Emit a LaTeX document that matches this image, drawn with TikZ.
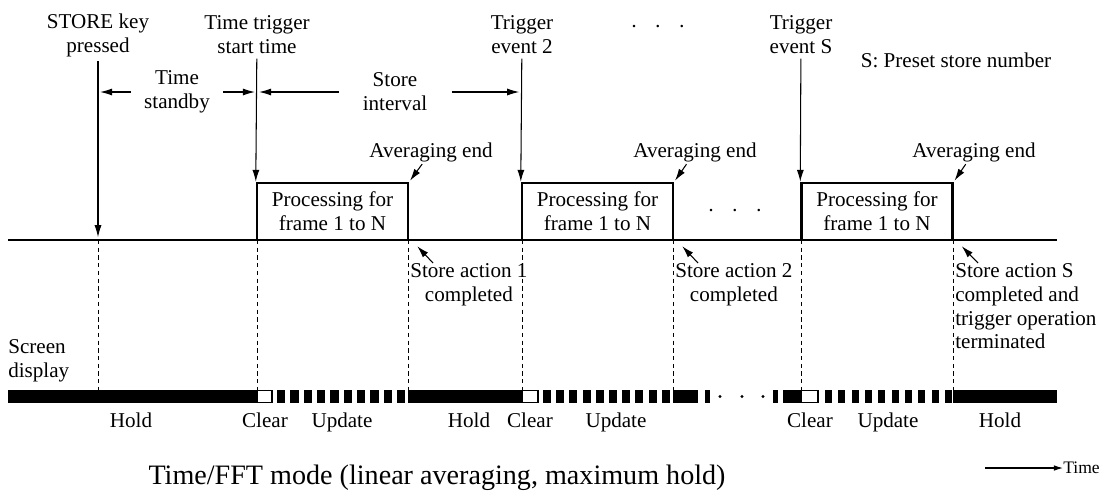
\documentclass[tikz,border=0pt]{standalone}
\usepackage{fontspec}
\setmainfont{Liberation Serif}
\usetikzlibrary{arrows.meta,positioning,calc}

\begin{document}
\begin{tikzpicture}[
  x=0.025cm, y=-0.025cm,
  lbl/.style={font=\fontsize{15}{17}\selectfont, align=center, inner sep=0pt},
  box/.style={draw, line width=1.7pt, minimum width=3.775cm, minimum height=1.425cm, inner sep=0pt, align=center, font=\fontsize{15}{17}\selectfont},
  arr/.style={-{Latex[length=8.5pt,width=5pt]}, line width=0.75pt},
  guide/.style={dash pattern=on 3pt off 2.5pt, line width=0.6pt},
  clr/.style={draw, fill=white, line width=0.8pt}
]
\useasboundingbox (0,0) rectangle (1110,496);

% event positions on the time line and on the screen bar
\foreach \n/\x in {a/98,b/257,c/408,d/522,e/673,f/801,g/953} {
  \coordinate (t\n) at (\x,240);
  \coordinate (s\n) at (\x,390);
}
\coordinate (l0) at (8,240);
\coordinate (l1) at (1057,240);
\draw[line width=1.7pt] (l0) -- (l1);

% processing boxes
\node[box] (p1) at (332.5,211.5) {Processing for\\frame 1 to N};
\node[box] (p2) at (597.5,211.5) {Processing for\\frame 1 to N};
\node[box] (p3) at (877,211.5) {Processing for\\frame 1 to N};
\node[lbl] (dots2) at (735,213) {·\hspace{0.8em}·\hspace{0.8em}·};

% triggers
\node[lbl] (stk) at (98,35) {STORE key\\pressed};
\node[lbl] (tts) at (257,35) {Time trigger\\start time};
\node[lbl] (te2) at (522,35) {Trigger\\event 2};
\node[lbl] (tes) at (801,35) {Trigger\\event S};
\node[lbl] (dots1) at (658,29) {·\hspace{0.8em}·\hspace{0.8em}·};
\node[lbl, anchor=base] (spn) at (956,67) {S: Preset store number};

\draw[arr, shorten <=3pt, shorten >=2pt] (stk) -- (ta);
\draw[arr, shorten <=3pt] (tts) -- (p1.north west);
\draw[arr, shorten <=3pt] (te2) -- (p2.north west);
\draw[arr, shorten <=3pt] (tes) -- (p3.north west);

% intervals
\node[lbl, inner xsep=0.33cm] (tsb) at (177,92) {Time\\standby};
\node[lbl, inner xsep=0.6cm] (sint) at (395,92) {Store\\interval};
\draw[arr, shorten >=1.5pt] (tsb.west) -- (tsb.west -| ta);
\draw[arr, shorten >=1.5pt] (tsb.east) -- (tsb.east -| tb);
\draw[arr, shorten >=1.5pt] (sint.west) -- (sint.west -| tb);
\draw[arr, shorten >=2pt] (sint.east) -- (sint.east -| td);

% averaging end
\node[lbl, anchor=base] (avg1) at (431,157) {Averaging end};
\node[lbl, anchor=base] (avg2) at (695,157) {Averaging end};
\node[lbl, anchor=base] (avg3) at (974,157) {Averaging end};
\draw[arr, shorten <=2pt, shorten >=1pt] (avg1) -- (p1.north east);
\draw[arr, shorten <=2pt, shorten >=1pt] (avg2) -- (p2.north east);
\draw[arr, shorten <=2pt, shorten >=1pt] (avg3) -- (p3.north east);

% store actions
\node[lbl, anchor=north west] (sa1) at (410,263) {Store action 1\\completed};
\node[lbl, anchor=north west] (sa2) at (675,263) {Store action 2\\completed};
\node[lbl, anchor=north west, align=left] (sas) at (955,263) {Store action S\\completed and\\trigger operation\\terminated};
\draw[arr] ($(sa1.north west)+(23,0)$) -- ($(p1.south east)+(8,5)$);
\draw[arr] ($(sa2.north west)+(23,0)$) -- ($(p2.south east)+(8,5)$);
\draw[arr] ($(sas.north west)+(23,0)$) -- ($(p3.south east)+(8,5)$);

\foreach \n in {a,b,c,d,e,f,g}
  \draw[guide] (t\n) -- (s\n);

% screen display bar
\node[lbl, anchor=west, align=left] (scr) at (8,361) {Screen\\display};
\fill (8,390) rectangle (257,403);
\draw[clr] (257.5,390.6) rectangle (272,402.4);
\foreach \x in {277,290.33,...,400} \fill (\x,390) rectangle ++(8.3,13);
\fill (408,390) rectangle (522,403);
\draw[clr] (522.5,390.6) rectangle (538,402.4);
\foreach \x in {543,556.2,...,665} \fill (\x,390) rectangle ++(8,13);
\fill (673,390) rectangle (698,403);
\fill (705,390) rectangle (710,403);
\foreach \x in {720,742,763} \fill (\x,396.5) circle[radius=1.2pt];
\fill (773,390) rectangle (778,403);
\fill (783,390) rectangle (801,403);
\draw[clr] (801.5,390.6) rectangle (818,402.4);
\foreach \x in {825,838.33,...,946} \fill (\x,390) rectangle ++(7,13);
\fill (953,390) rectangle (1057,403);

\node[lbl, anchor=base] (h1) at (131,427) {Hold};
\node[lbl, anchor=base] (c1) at (265,427) {Clear};
\node[lbl, anchor=base] (u1) at (342,427) {Update};
\node[lbl, anchor=base] (h2) at (469,427) {Hold};
\node[lbl, anchor=base] (c2) at (530,427) {Clear};
\node[lbl, anchor=base] (u2) at (616,427) {Update};
\node[lbl, anchor=base] (c3) at (810,427) {Clear};
\node[lbl, anchor=base] (u3) at (888,427) {Update};
\node[lbl, anchor=base] (h3) at (1000,427) {Hold};

% caption and time axis
\node[font=\fontsize{20}{24}\selectfont, anchor=base, inner sep=0pt] (cap) at (437,484) {Time/FFT mode (linear averaging, maximum hold)};
\node[font=\fontsize{12.5}{14}\selectfont, anchor=base west, inner sep=0pt] (tim) at (1063,473) {Time};
\coordinate (tarr) at (985,468);
\draw[-{Latex[length=6.5pt,width=4pt]}, line width=0.75pt] (tarr) -- (tarr -| tim.west);
\end{tikzpicture}
\end{document}
